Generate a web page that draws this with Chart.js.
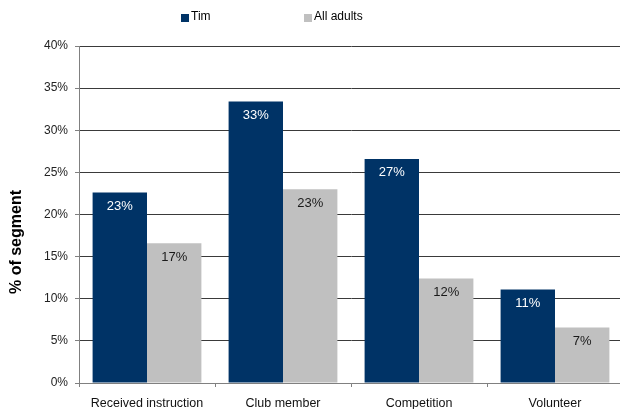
<!DOCTYPE html>
<html lang="en">
<head>
    <meta charset="UTF-8">
    <title>% of segment</title>
    <script src="https://cdn.jsdelivr.net/npm/chart.js"></script>
    <style>
        body { margin: 0; background: #fff; font-family: "Liberation Sans", Arial, sans-serif; }
        .wrap { position: relative; width: 620px; height: 409px; overflow: hidden; }
        .legend { position: absolute; top: 9px; left: 0; font-size: 12px; color: #000; }
        .legend-item { position: absolute; white-space: nowrap; line-height: 14px; }
        .legend-item span { display: inline-block; width: 8px; height: 8px; margin-right: 2px; vertical-align: -2px; }
    </style>
</head>
<body>
    <div class="wrap">
        <div class="legend" id="legend"></div>
        <canvas id="chart" width="624" height="409"></canvas>
    </div>

    <script>
        const categories = ['Received instruction', 'Club member', 'Competition', 'Volunteer'];
        const seriesNames = ['Tim', 'All adults'];
        const timValues = [22.6, 33.4, 26.6, 11.1];
        const allAdultsValues = [16.6, 23.0, 12.4, 6.6];
        const seriesColors = ['#003366', '#C0C0C0'];
        const labelColors = ['#ffffff', '#1a1a1a'];

        // value labels just inside the top of each bar
        const barLabels = {
            id: 'barLabels',
            afterDatasetsDraw(chart) {
                const ctx = chart.ctx;
                ctx.save();
                ctx.font = '13px "Liberation Sans", Arial, sans-serif';
                ctx.textAlign = 'center';
                ctx.textBaseline = 'middle';
                chart.data.datasets.forEach((ds, i) => {
                    chart.getDatasetMeta(i).data.forEach((bar, j) => {
                        ctx.fillStyle = labelColors[i];
                        ctx.fillText(Math.round(ds.data[j]) + '%', bar.x, bar.y + 14);
                    });
                });
                ctx.restore();
            }
        };

        // y axis title, sits a bit below the middle of the plot
        const axisTitle = {
            id: 'axisTitle',
            afterDraw(chart) {
                const ctx = chart.ctx;
                ctx.save();
                ctx.translate(17, 242);
                ctx.rotate(-Math.PI / 2);
                ctx.font = 'bold 16px "Liberation Sans", Arial, sans-serif';
                ctx.fillStyle = '#000';
                ctx.textAlign = 'center';
                ctx.textBaseline = 'middle';
                ctx.fillText('% of segment', 0, 0);
                ctx.restore();
            }
        };

        Chart.defaults.font.family = '"Liberation Sans", Arial, sans-serif';
        Chart.defaults.color = '#222';

        const chart = new Chart(document.getElementById('chart').getContext('2d'), {
            type: 'bar',
            data: {
                labels: categories,
                datasets: [
                    { label: seriesNames[0], data: timValues, backgroundColor: seriesColors[0] },
                    { label: seriesNames[1], data: allAdultsValues, backgroundColor: seriesColors[1] }
                ]
            },
            options: {
                responsive: false,
                animation: false,
                layout: { padding: { top: 46, right: 1, bottom: 0, left: 0 } },
                datasets: { bar: { barPercentage: 1, categoryPercentage: 0.8 } },
                scales: {
                    x: {
                        grid: { drawOnChartArea: false, tickLength: 4, tickColor: '#808080', offset: true },
                        border: { color: '#808080' },
                        ticks: { font: { size: 12.5 }, color: '#111', padding: 9, maxRotation: 0 },
                        afterFit: s => { s.height = 26; }
                    },
                    y: {
                        min: 0,
                        max: 40,
                        grid: {
                            color: ctx => ctx.tick.value === 0 ? '#808080' : '#3a3a3a',
                            tickLength: 4,
                            tickColor: '#808080'
                        },
                        border: { color: '#808080' },
                        ticks: { stepSize: 5, padding: 7, font: { size: 12 }, color: '#222', callback: v => v + '%' },
                        afterFit: s => { s.width = 79; }
                    }
                },
                plugins: {
                    legend: { display: false },
                    tooltip: { enabled: false }
                }
            },
            plugins: [barLabels, axisTitle]
        });

        // legend above the plot
        const legendLeft = [181, 304];
        const legend = document.getElementById('legend');
        chart.data.datasets.forEach((ds, i) => {
            const item = document.createElement('div');
            item.className = 'legend-item';
            item.style.left = legendLeft[i] + 'px';
            item.innerHTML = '<span style="background:' + ds.backgroundColor + '"></span>' + ds.label;
            legend.appendChild(item);
        });
    </script>
</body>
</html>
